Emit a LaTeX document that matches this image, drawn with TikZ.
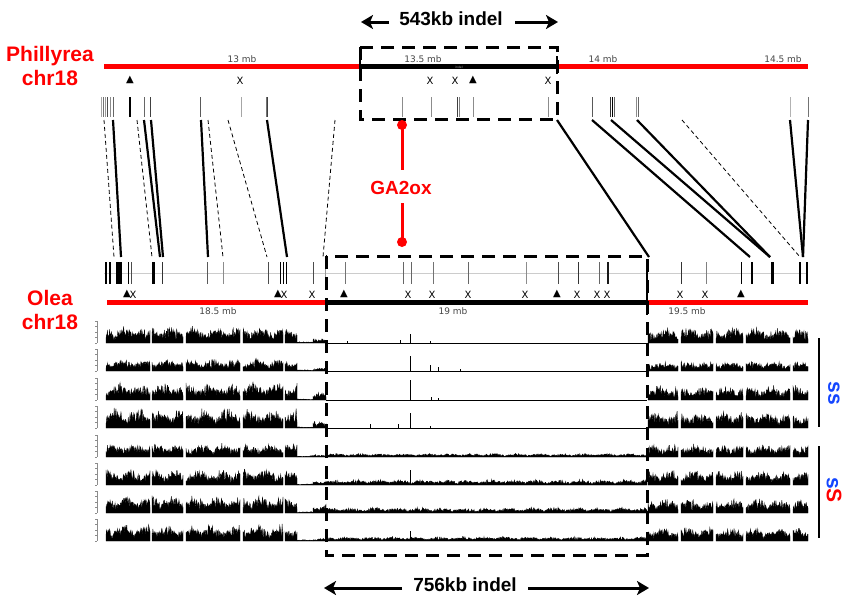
\documentclass[tikz,border=0pt]{standalone}
\usepackage{fontspec}
\setmainfont{Liberation Sans}
\newfontfamily\dejavu{DejaVu Sans}
\usetikzlibrary{arrows.meta}
\definecolor{myred}{RGB}{255,0,0}
\definecolor{myblue}{RGB}{20,70,255}
\definecolor{lblgray}{RGB}{70,70,70}
\newcommand\sigb[4]{% base, from, to, height
  \pgfmathtruncatemacro\nsmp{(#3-#2)*2.2+2}%
  \filldraw[line width=0.3pt] (#2,#1) -- plot[domain=#2:#3, samples=\nsmp] (\x,{#1-#4*(0.12+0.38*rnd+0.5*rnd*abs(sin(\x*8+#1)))}) -- (#3,#1) -- cycle;}
\begin{document}
\begin{tikzpicture}[x=1pt,y=-1pt,
  title/.style={font=\fontsize{21}{24}\selectfont\bfseries, text=myred, align=center, inner sep=0},
  indel/.style={font=\fontsize{19}{21}\selectfont\bfseries, inner sep=0},
  mb/.style={font=\dejavu\fontsize{9}{10}\selectfont, text=lblgray, inner sep=0},
  xm/.style={font=\dejavu\fontsize{10}{11}\selectfont, inner sep=0},
  tri/.style={font=\dejavu\fontsize{10}{11}\selectfont, inner sep=0},
  bigarrow/.style={line width=3pt, -{Stealth[length=12pt,width=14pt,inset=3pt]}},
  boxdash/.style={line width=3pt, dash pattern=on 13pt off 8pt},
  link/.style={line width=2.2pt},
  linkd/.style={line width=0.8pt, dash pattern=on 4pt off 3pt},
  sslabel/.style={font=\fontsize{21}{23}\selectfont\bfseries, rotate=-90, inner sep=0},
]
\useasboundingbox[fill=white] (0,0) rectangle (850,605);
\pgfmathsetseed{4242}

% ---------- titles ----------
\node[title] (phil) at (50,66) {Phillyrea\\chr18};
\node[title] (olea) at (50,310) {Olea\\chr18};

% ---------- top chromosome ----------
\draw[myred, line width=5pt] (104,66) -- (360,66);
\draw[line width=5pt] (360,66) -- (557,66);
\draw[myred, line width=5pt] (557,66) -- (808,66);
\draw[line width=2pt] (360,56) -- (360,74);
\draw[line width=2pt] (557,56) -- (557,74);
\node[mb] (m13) at (242,59) {13 mb};
\node[mb] (m135) at (423,59) {13.5 mb};
\node[mb] (m14) at (603,59) {14 mb};
\node[mb] (m145) at (783,59) {14.5 mb};
\node[font=\dejavu\fontsize{3}{3}\selectfont, text=gray!70, inner sep=0] (ind) at (459,67) {indel};

% top markers
\foreach \p in {130,473} \node[tri] at (\p,80) {▲};
\foreach \p in {240,430,455,548} \node[xm] at (\p,81) {X};

% top gene ticks
\foreach \p/\c/\w in {101/black!35/0.6,103/black!55/0.6,105/black!40/0.6,107/black!70/0.7,110/black!45/0.6,113/black!60/0.7,
  130/black/1.2,144/black!60/0.8,150/black!75/0.9,200/black!65/0.8,241/black!35/0.7,266/black!55/0.7,267.5/black!75/0.7,
  402/black!45/0.7,431/black!45/0.7,457/black!75/0.9,459/black!50/0.7,473/black!45/0.7,548/black!45/0.7,
  592/black!65/1.0,610/black!80/0.9,612/black/0.9,614/black!60/0.7,636/black!45/0.7,638/black!60/0.7,
  790/black!30/0.8,808/black!55/1.0}
  \draw[\c, line width=\w] (\p,97) -- (\p,117);

% ---------- top indel box and label ----------
\draw[boxdash] (360,47) rectangle (557,119);
\node[indel] (t543) at (451,19) {543kb indel};
\draw[bigarrow] (389,22) -- (361,22);
\draw[bigarrow] (515,22) -- (558,22);

% ---------- synteny links ----------
\foreach \a/\b in {113/121,144/160,151/163,201/208,267/287,557/649,592/750,611/770,637/770,790/803,808/803}
  \draw[link] (\a,120) -- (\b,257);
\foreach \a/\b in {104/114,137/152,208/223,228/267,335/323,682/800}
  \draw[linkd] (\a,120) -- (\b,257);

% ---------- GA2ox ----------
\node[font=\fontsize{19}{21}\selectfont\bfseries, text=myred, inner sep=0] (ga) at (401,188) {GA2ox};
\draw[myred, line width=3pt] (402,125) -- (402,170);
\draw[myred, line width=3pt] (402,203) -- (402,242);
\fill[myred] (402,125) circle (5pt);
\fill[myred] (402,242) circle (5pt);

% ---------- bottom gene track ----------
\draw[black!20, line width=0.6pt] (104,273) -- (808,273);
\foreach \p/\c/\w in {106/black/1.2,110/black/1.2,128/black/1.0,131/black!70/0.9,162/black!80/1.0,207/black!65/0.9,223/black!45/0.8,
  268/black!70/0.9,280/black/1.0,283/black/1.0,286/black/1.0,313/black!70/0.9,325/black!40/0.9,
  345/black!55/0.8,403/black!60/0.8,411/black!60/0.8,433/black!55/0.8,468/black!60/0.9,526/black!45/0.8,
  558/black!70/0.9,578/black!80/0.9,599/black!60/0.8,608/black!90/1.6,647/black/2.5,681/black!80/0.9,
  706/black!50/0.8,741/black/1.0,752/black/2.0,772/black/3.0,800/black/2.0,807/black/2.0}
  \draw[\c, line width=\w] (\p,262) -- (\p,284);
\fill (116,262) rectangle (122,284);
\fill (151.5,262) rectangle (155,284);

% ---------- bottom chromosome ----------
\draw[myred, line width=5pt] (107,302) -- (326,302);
\draw[line width=5pt] (326,302) -- (647,302);
\draw[myred, line width=5pt] (647,302) -- (808,302);
\draw[line width=2.5pt] (647,291) -- (647,315);
\node[mb] (m185) at (218,311) {18.5 mb};
\node[mb] (m19) at (453,311) {19 mb};
\node[mb] (m195) at (687,311) {19.5 mb};

% bottom markers
\foreach \p in {127,278,344,557,741} \node[tri] at (\p,294) {▲};
\foreach \p in {133,284,312,408,432,468,525,577,597,607,680,705} \node[xm] at (\p,295) {X};

% ---------- coverage tracks ----------
\foreach \b/\hl/\hm/\hr/\hbump in {343/19/0/17/6, 371/13/0/11/4, 400/19/0/16/8, 428/21/0/18/8,
    457/15/4/14/3, 485/17/6/16/5, 513/19/6/15/10, 541/18/5/15/3} {
  \draw[black!45, line width=0.4pt] (97,\b-22) -- (97,\b);
  \foreach \k in {0,5.5,11,16.5,22} \draw[black!45, line width=0.4pt] (95,\b-\k) -- (97,\b-\k);
  \foreach \a/\c in {106/150,152/183,186/240,243/283,285/297} {\sigb{\b}{\a}{\c}{\hl}}
  \sigb{\b}{297}{313}{1.5}
  \sigb{\b}{313}{326}{\hbump}
  \ifnum\hm>0
    \sigb{\b}{326}{647}{\hm}
  \else
    \draw[line width=0.9pt] (326,\b) -- (647,\b);
  \fi
  \foreach \a/\c in {648/678,681/713,716/743,746/790,793/808} {\sigb{\b}{\a}{\c}{\hr}}
}
\foreach \b/\s/\h in {343/410/9, 343/400/3, 343/347/2, 343/430/2,
    371/410/15, 371/430/6, 371/438/4, 371/460/2,
    400/410/20, 400/431/3, 400/438/2,
    428/410/15, 428/370/4, 428/398/4, 428/430/2,
    485/410/15, 541/410/10}
  \draw[line width=0.9pt] (\s,\b) -- (\s,\b-\h);

% ---------- bottom indel box and label ----------
\draw[boxdash] (326,256) rectangle (647,555);
\node[indel] (t756) at (465,585) {756kb indel};
\draw[bigarrow] (402,588) -- (324,588);
\draw[bigarrow] (528,588) -- (649,588);

% ---------- genotype groups ----------
\draw[line width=2.5pt] (819,338) -- (819,427);
\draw[line width=2.5pt] (819,446) -- (819,538);
\node[sslabel] (g1) at (834,393) {\textcolor{myblue}{ss}};
\node[sslabel] (g2) at (834,490) {\textcolor{myblue}{s}\textcolor{myred}{S}};
\end{tikzpicture}
\end{document}
